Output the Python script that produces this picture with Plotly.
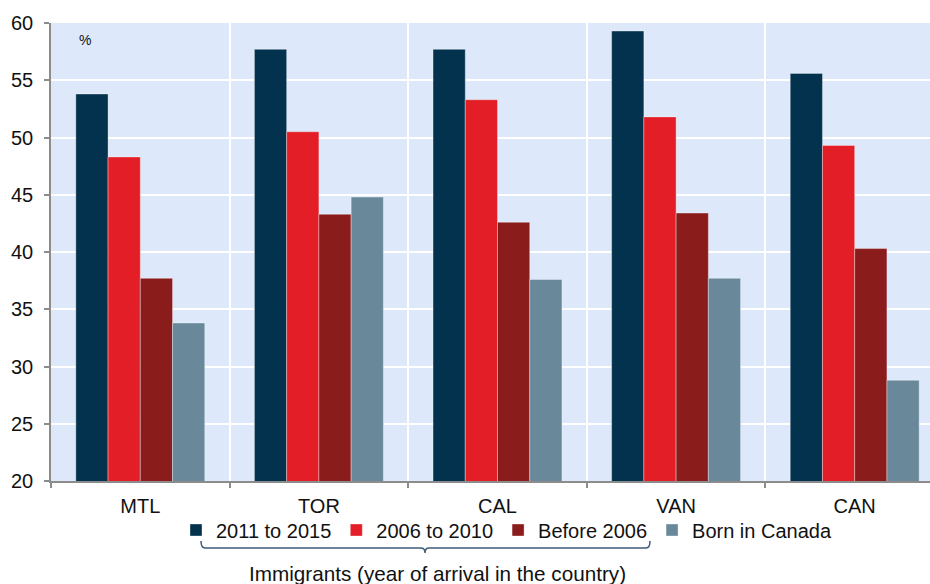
import plotly.graph_objects as go

categories = ["MTL", "TOR", "CAL", "VAN", "CAN"]
series_names = ["2011 to 2015", "2006 to 2010", "Before 2006", "Born in Canada"]
s2011_2015 = [53.8, 57.7, 57.7, 59.3, 55.6]
s2006_2010 = [48.3, 50.5, 53.3, 51.8, 49.3]
sbefore_2006 = [37.7, 43.3, 42.6, 43.4, 40.3]
sborn_canada = [33.8, 44.8, 37.6, 37.7, 28.8]
colors = ["#02324d", "#e31e26", "#8b1c1c", "#69899a"]
y_ticks = [20, 25, 30, 35, 40, 45, 50, 55, 60]

W, H = 930, 584
L, R, T, B = 51, 0, 23, 103
pw, ph = W - L - R, H - T - B

def px(x):
    return (x - L) / pw

def py(y):
    return (H - B - y) / ph

fig = go.Figure()
for name, vals, c in zip(series_names, [s2011_2015, s2006_2010, sbefore_2006, sborn_canada], colors):
    fig.add_trace(go.Bar(
        x=categories, y=vals, name=name,
        marker=dict(color=c, line=dict(color="rgba(255,255,255,0.35)", width=1)),
    ))

cat_w = 178.6
xmax = -0.5 + pw / cat_w

fig.update_layout(
    width=W, height=H,
    margin=dict(l=L, r=R, t=T, b=B, pad=0),
    paper_bgcolor="white",
    plot_bgcolor="#dde9fb",
    barmode="group",
    bargap=0.278,
    bargroupgap=0,
    font=dict(family="Liberation Sans, Arial, sans-serif", size=20, color="#111"),
    showlegend=True,
    legend=dict(
        orientation="h",
        x=px(176), xanchor="left",
        y=py(530), yanchor="middle",
        font=dict(size=20),
        itemwidth=30,
        traceorder="normal",
        bgcolor="rgba(0,0,0,0)",
    ),
    xaxis=dict(
        range=[-0.5, xmax],
        showline=True, linecolor="#8c8c8c", linewidth=1.5,
        ticks="outside", tickson="boundaries", ticklen=5, tickcolor="#8c8c8c", tickwidth=1.5,
        showgrid=True, gridcolor="white", gridwidth=1.5,
        ticklabelstandoff=6,
        fixedrange=True,
    ),
    yaxis=dict(
        range=[20, 60],
        tickvals=y_ticks,
        showline=True, linecolor="#8c8c8c", linewidth=1.5,
        ticks="outside", ticklen=5, tickcolor="#8c8c8c", tickwidth=1.5,
        showgrid=True, gridcolor="white", gridwidth=1.5,
        zeroline=False,
        ticklabelstandoff=7,
        fixedrange=True,
    ),
)

fig.add_annotation(
    text="%", xref="paper", yref="paper", x=px(85), y=py(40),
    xanchor="center", yanchor="middle", showarrow=False, font=dict(size=14, color="#111"),
)

fig.add_annotation(
    text="Immigrants (year of arrival in the country)", xref="paper", yref="paper",
    x=px(437), y=py(573), xanchor="center", yanchor="middle", showarrow=False,
    font=dict(size=20.7, color="#111"),
)

# brace under immigrant legend items
pts = [
    ("M", 201, 541), ("Q", 201, 548, 205, 548), ("L", 421, 548), ("Q", 425, 548, 425, 553),
    ("Q", 425, 548, 429, 548), ("L", 646, 548), ("Q", 650, 548, 650, 541),
]
path = ""
for p in pts:
    cmd = p[0]
    coords = p[1:]
    s = []
    for i in range(0, len(coords), 2):
        s.append(f"{px(coords[i]):.5f},{py(coords[i+1]):.5f}")
    path += cmd + " " + " ".join(s) + " "
fig.add_shape(type="path", path=path.strip(), xref="paper", yref="paper",
              line=dict(color="#3d5b78", width=1.5))

fig.write_html("out.html")
